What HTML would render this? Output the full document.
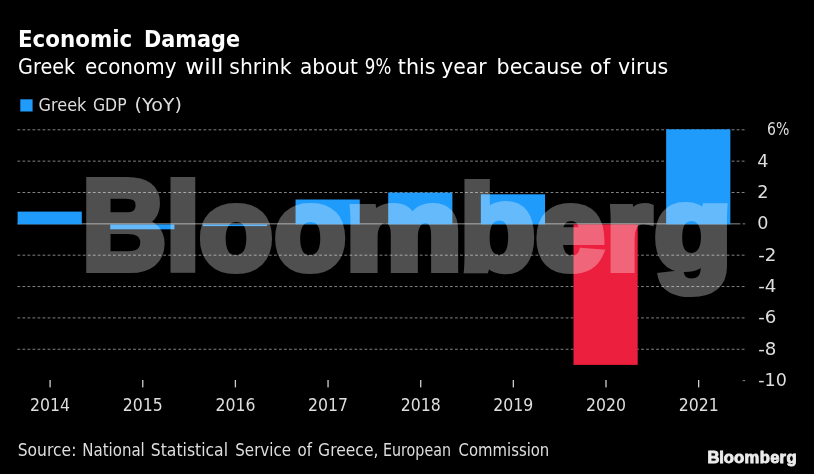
<!DOCTYPE html>
<html lang="en"><head><meta charset="utf-8"><title>Economic Damage</title>
<style>
html,body{margin:0;padding:0;background:#000;}
body{width:814px;height:474px;overflow:hidden;position:relative;}
svg{position:absolute;left:0;top:0;display:block;}
text{font-family:"DejaVu Sans","Liberation Sans",sans-serif;}
.t{font-weight:bold;fill:#fff;font-size:22.3px;}
.s{fill:#fff;font-size:21.3px;}
.l{fill:#dedede;font-size:17.3px;}
.bb{font-family:"Liberation Sans",sans-serif;font-weight:bold;fill:#fff;stroke:#fff;stroke-linejoin:miter;}
.sm .bb{fill:#ececec;stroke:#ececec;}
</style></head><body>
<svg width="814" height="474" viewBox="0 0 814 474">
<rect width="814" height="474" fill="#000"/>
<line x1="17.4" x2="745.5" y1="129.80" y2="129.80" stroke="#828282" stroke-width="1" stroke-dasharray="2.8 2.23"/>
<line x1="17.4" x2="745.5" y1="161.15" y2="161.15" stroke="#828282" stroke-width="1" stroke-dasharray="2.8 2.23"/>
<line x1="17.4" x2="745.5" y1="192.50" y2="192.50" stroke="#828282" stroke-width="1" stroke-dasharray="2.8 2.23"/>
<line x1="17.4" x2="745.5" y1="255.20" y2="255.20" stroke="#828282" stroke-width="1" stroke-dasharray="2.8 2.23"/>
<line x1="17.4" x2="745.5" y1="286.55" y2="286.55" stroke="#828282" stroke-width="1" stroke-dasharray="2.8 2.23"/>
<line x1="17.4" x2="745.5" y1="317.90" y2="317.90" stroke="#828282" stroke-width="1" stroke-dasharray="2.8 2.23"/>
<line x1="17.4" x2="745.5" y1="349.25" y2="349.25" stroke="#828282" stroke-width="1" stroke-dasharray="2.8 2.23"/>
<rect x="742.6" y="380.10" width="2.6" height="1" fill="#828282"/>
<rect x="17.4" y="223.35" width="723" height="1" fill="#8c8c8c"/>
<rect x="742.6" y="223.35" width="2.6" height="1" fill="#828282"/>
<rect x="17.60" y="211.60" width="64.2" height="12.70" fill="#1f9bfb"/>
<rect x="110.25" y="224.40" width="64.2" height="4.90" fill="#1f9bfb"/>
<rect x="202.90" y="224.40" width="64.2" height="1.70" fill="#1f9bfb"/>
<rect x="295.55" y="199.50" width="64.2" height="24.80" fill="#1f9bfb"/>
<rect x="388.20" y="192.60" width="64.2" height="31.70" fill="#1f9bfb"/>
<rect x="480.85" y="194.30" width="64.2" height="30.00" fill="#1f9bfb"/>
<rect x="573.50" y="224.40" width="64.2" height="140.50" fill="#ec203e"/>
<rect x="666.15" y="129.30" width="64.2" height="95.00" fill="#1f9bfb"/>
<g opacity=".31"><text class="bb" style="stroke-width:8.2px" y="268.5" aria-label="Bloomberg"><tspan x="82.33" style="font-size:127.4px" textLength="83.84" lengthAdjust="spacingAndGlyphs">B</tspan><tspan x="166.21" style="font-size:121px" textLength="33.41" lengthAdjust="spacingAndGlyphs">l</tspan><tspan x="199.63" style="font-size:115px" textLength="72.92" lengthAdjust="spacingAndGlyphs">o</tspan><tspan x="274.86" style="font-size:115px" textLength="70.86" lengthAdjust="spacingAndGlyphs">o</tspan><tspan x="346.04" style="font-size:115px" textLength="115.53" lengthAdjust="spacingAndGlyphs">m</tspan><tspan x="460.24" style="font-size:118px" textLength="74.67" lengthAdjust="spacingAndGlyphs">b</tspan><tspan x="535.91" style="font-size:115px" textLength="68.19" lengthAdjust="spacingAndGlyphs">e</tspan><tspan x="606.85" style="font-size:115px" textLength="44.59" lengthAdjust="spacingAndGlyphs">r</tspan><tspan x="654.55" style="font-size:115px" textLength="76.76" lengthAdjust="spacingAndGlyphs">g</tspan></text></g>
<rect x="49.45" y="380" width="1.3" height="7.4" fill="#cfcfcf"/>
<text class="l" x="30.10" y="411.3" textLength="40" lengthAdjust="spacingAndGlyphs">2014</text>
<rect x="142.10" y="380" width="1.3" height="7.4" fill="#cfcfcf"/>
<text class="l" x="122.75" y="411.3" textLength="40" lengthAdjust="spacingAndGlyphs">2015</text>
<rect x="234.75" y="380" width="1.3" height="7.4" fill="#cfcfcf"/>
<text class="l" x="215.40" y="411.3" textLength="40" lengthAdjust="spacingAndGlyphs">2016</text>
<rect x="327.40" y="380" width="1.3" height="7.4" fill="#cfcfcf"/>
<text class="l" x="308.05" y="411.3" textLength="40" lengthAdjust="spacingAndGlyphs">2017</text>
<rect x="420.05" y="380" width="1.3" height="7.4" fill="#cfcfcf"/>
<text class="l" x="400.70" y="411.3" textLength="40" lengthAdjust="spacingAndGlyphs">2018</text>
<rect x="512.70" y="380" width="1.3" height="7.4" fill="#cfcfcf"/>
<text class="l" x="493.35" y="411.3" textLength="40" lengthAdjust="spacingAndGlyphs">2019</text>
<rect x="605.35" y="380" width="1.3" height="7.4" fill="#cfcfcf"/>
<text class="l" x="586.00" y="411.3" textLength="40" lengthAdjust="spacingAndGlyphs">2020</text>
<rect x="698.00" y="380" width="1.3" height="7.4" fill="#cfcfcf"/>
<text class="l" x="678.65" y="411.3" textLength="40" lengthAdjust="spacingAndGlyphs">2021</text>
<text class="l" x="767.1" y="135.2" textLength="22.3" lengthAdjust="spacingAndGlyphs">6%</text>
<text class="l" x="757.3" y="166.5" textLength="11.2" lengthAdjust="spacingAndGlyphs">4</text>
<text class="l" x="757.3" y="197.9" textLength="11.2" lengthAdjust="spacingAndGlyphs">2</text>
<text class="l" x="757.3" y="229.2" textLength="11.2" lengthAdjust="spacingAndGlyphs">0</text>
<text class="l" x="758.2" y="260.6" textLength="18.2" lengthAdjust="spacingAndGlyphs">-2</text>
<text class="l" x="758.2" y="291.9" textLength="18.2" lengthAdjust="spacingAndGlyphs">-4</text>
<text class="l" x="758.2" y="323.3" textLength="18.2" lengthAdjust="spacingAndGlyphs">-6</text>
<text class="l" x="758.2" y="354.6" textLength="18.2" lengthAdjust="spacingAndGlyphs">-8</text>
<text class="l" x="758.2" y="386.0" textLength="28.6" lengthAdjust="spacingAndGlyphs">-10</text>
<text class="t" y="47.0"><tspan x="18.0" textLength="114.3" lengthAdjust="spacingAndGlyphs">Economic</tspan> <tspan x="144.0" textLength="96.0" lengthAdjust="spacingAndGlyphs">Damage</tspan></text>
<text class="s" y="73.6"><tspan x="18.0" textLength="57.2" lengthAdjust="spacingAndGlyphs">Greek</tspan> <tspan x="84.9" textLength="91.6" lengthAdjust="spacingAndGlyphs">economy</tspan> <tspan x="185.3" textLength="38.1" lengthAdjust="spacingAndGlyphs">will</tspan> <tspan x="229.3" textLength="62.3" lengthAdjust="spacingAndGlyphs">shrink</tspan> <tspan x="300.0" textLength="58.0" lengthAdjust="spacingAndGlyphs">about</tspan> <tspan x="364.8" textLength="26.4" lengthAdjust="spacingAndGlyphs">9%</tspan> <tspan x="397.8" textLength="37.7" lengthAdjust="spacingAndGlyphs">this</tspan> <tspan x="441.2" textLength="45.4" lengthAdjust="spacingAndGlyphs">year</tspan> <tspan x="496.6" textLength="86.2" lengthAdjust="spacingAndGlyphs">because</tspan> <tspan x="589.7" textLength="20.6" lengthAdjust="spacingAndGlyphs">of</tspan> <tspan x="618.1" textLength="50.1" lengthAdjust="spacingAndGlyphs">virus</tspan></text>
<rect x="20.3" y="99.3" width="12.3" height="12.2" fill="#1f9bfb"/>
<text class="l" y="111.0"><tspan x="38.6" textLength="47.8" lengthAdjust="spacingAndGlyphs">Greek</tspan> <tspan x="93.0" textLength="33.6" lengthAdjust="spacingAndGlyphs">GDP</tspan> <tspan x="134.6" textLength="47.4" lengthAdjust="spacingAndGlyphs">(YoY)</tspan></text>
<text class="l" y="456.4"><tspan x="17.7" textLength="58.7" lengthAdjust="spacingAndGlyphs">Source:</tspan> <tspan x="82.2" textLength="62.6" lengthAdjust="spacingAndGlyphs">National</tspan> <tspan x="150.8" textLength="77.2" lengthAdjust="spacingAndGlyphs">Statistical</tspan> <tspan x="235.3" textLength="55.7" lengthAdjust="spacingAndGlyphs">Service</tspan> <tspan x="297.6" textLength="14.5" lengthAdjust="spacingAndGlyphs">of</tspan> <tspan x="318.1" textLength="60.3" lengthAdjust="spacingAndGlyphs">Greece,</tspan> <tspan x="383.0" textLength="68.0" lengthAdjust="spacingAndGlyphs">European</tspan> <tspan x="458.6" textLength="90.7" lengthAdjust="spacingAndGlyphs">Commission</tspan></text>
<text class="bb" style="font-size:16.61px;stroke-width:0.84px;fill:#ececec;stroke:#ececec" y="462.9" x="707.54 719.30 723.83 734.01 744.55 759.73 770.14 779.61 786.55">Bloomberg</text>
</svg></body></html>
